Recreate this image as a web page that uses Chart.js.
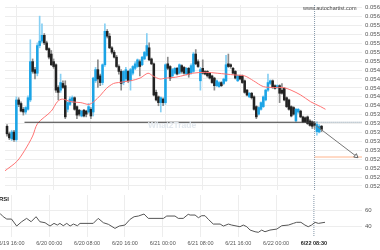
<!DOCTYPE html>
<html lang="en">
<head>
<meta charset="UTF-8">
<title>Candles with RSI</title>
<script src="https://cdn.jsdelivr.net/npm/chart.js"></script>
<style>
  html, body { margin: 0; padding: 0; background: #fff; overflow: hidden; }
  .wrap { position: relative; width: 380px; height: 250px; font-family: "Liberation Sans", Arial, sans-serif; }
  #mainBox { position: absolute; left: 0; top: 0; }
  #rsiBox { position: absolute; left: 0; top: 195px; }
  .site { position: absolute; left: 303px; top: 5px; font-size: 5.5px; color: #444; }
  .brand { position: absolute; left: 148px; top: 120px; font-size: 8.5px; font-weight: bold; color: #e2e8ee; }
  .rsiTag { position: absolute; left: -1px; top: 196px; font-size: 6px; font-weight: bold; color: #222; }
</style>
</head>
<body>
<div class="wrap">
  <canvas id="mainBox" width="380" height="195"></canvas>
  <canvas id="rsiBox" width="380" height="55"></canvas>
  <div class="brand">What2Trade</div>
  <div class="site">www.autochartist.com</div>
  <div class="rsiTag">RSI</div>
</div>
<script>
// half-hour candles, index 0 = 6/19 16:00
const firstIndex = -4;
const opens = [
  0.05354, 0.05337, 0.05326, 0.05341,
  0.05324, 0.05413, 0.05405, 0.05392, 0.05386, 0.05392, 0.05413, 0.05499, 0.05481, 0.05473,
  0.05535, 0.05545, 0.05558, 0.05541, 0.05528, 0.05516, 0.05499, 0.05492, 0.05441, 0.05435,
  0.05450, 0.05445, 0.05392, 0.05403, 0.05411, 0.05418, 0.05398, 0.05390, 0.05377, 0.05390,
  0.05388, 0.05386, 0.05392, 0.05386, 0.05456, 0.05481, 0.05467, 0.05452, 0.05492, 0.05567,
  0.05556, 0.05530, 0.05520, 0.05509, 0.05488, 0.05477, 0.05452, 0.05460, 0.05477, 0.05456,
  0.05473, 0.05484, 0.05488, 0.05499, 0.05492, 0.05505, 0.05513, 0.05530, 0.05505, 0.05494,
  0.05430, 0.05420, 0.05407, 0.05415, 0.05407, 0.05494, 0.05488, 0.05467, 0.05473, 0.05484,
  0.05473, 0.05490, 0.05486, 0.05471, 0.05484, 0.05473, 0.05477, 0.05516, 0.05499, 0.05456,
  0.05484, 0.05477, 0.05477, 0.05473, 0.05467, 0.05462, 0.05445, 0.05443, 0.05452, 0.05450,
  0.05456, 0.05494, 0.05492, 0.05484, 0.05477, 0.05456, 0.05467, 0.05467, 0.05456, 0.05435,
  0.05420, 0.05428, 0.05420, 0.05398, 0.05381, 0.05392, 0.05398, 0.05413, 0.05435, 0.05450,
  0.05456, 0.05445, 0.05441, 0.05445, 0.05435, 0.05439, 0.05418, 0.05413, 0.05398, 0.05396,
  0.05366, 0.05386, 0.05388, 0.05375, 0.05373, 0.05375, 0.05366, 0.05364, 0.05360, 0.05342,
  0.05341, 0.05354
];
const closes = [
  0.05337, 0.05328, 0.05341, 0.05324,
  0.05413, 0.05403, 0.05388, 0.05386, 0.05396, 0.05418, 0.05499, 0.05477, 0.05473, 0.05535,
  0.05545, 0.05558, 0.05541, 0.05526, 0.05509, 0.05492, 0.05488, 0.05435, 0.05430, 0.05452,
  0.05441, 0.05375, 0.05407, 0.05415, 0.05418, 0.05392, 0.05379, 0.05381, 0.05388, 0.05377,
  0.05381, 0.05398, 0.05377, 0.05462, 0.05481, 0.05460, 0.05452, 0.05492, 0.05567, 0.05556,
  0.05530, 0.05520, 0.05509, 0.05488, 0.05477, 0.05450, 0.05477, 0.05481, 0.05456, 0.05481,
  0.05488, 0.05494, 0.05503, 0.05488, 0.05509, 0.05520, 0.05535, 0.05503, 0.05494, 0.05424,
  0.05413, 0.05407, 0.05418, 0.05407, 0.05492, 0.05484, 0.05462, 0.05481, 0.05484, 0.05471,
  0.05492, 0.05477, 0.05473, 0.05484, 0.05471, 0.05490, 0.05516, 0.05494, 0.05488, 0.05481,
  0.05473, 0.05471, 0.05467, 0.05462, 0.05452, 0.05445, 0.05456, 0.05452, 0.05445, 0.05460,
  0.05492, 0.05488, 0.05488, 0.05473, 0.05462, 0.05467, 0.05460, 0.05452, 0.05430, 0.05424,
  0.05428, 0.05418, 0.05392, 0.05375, 0.05396, 0.05407, 0.05420, 0.05435, 0.05452, 0.05456,
  0.05441, 0.05439, 0.05445, 0.05428, 0.05428, 0.05413, 0.05398, 0.05392, 0.05377, 0.05381,
  0.05392, 0.05392, 0.05375, 0.05364, 0.05364, 0.05360, 0.05356, 0.05354, 0.05356, 0.05358,
  0.05354, 0.05347
];
const highs = [
  0.05358, 0.05341, 0.05345, 0.05345,
  0.05420, 0.05418, 0.05409, 0.05396, 0.05398, 0.05422, 0.05548, 0.05505, 0.05486, 0.05541,
  0.05601, 0.05584, 0.05562, 0.05545, 0.05530, 0.05524, 0.05505, 0.05494, 0.05445, 0.05471,
  0.05456, 0.05456, 0.05409, 0.05420, 0.05422, 0.05420, 0.05400, 0.05392, 0.05390, 0.05392,
  0.05390, 0.05405, 0.05396, 0.05464, 0.05486, 0.05503, 0.05471, 0.05494, 0.05584, 0.05571,
  0.05562, 0.05533, 0.05524, 0.05513, 0.05492, 0.05481, 0.05479, 0.05486, 0.05479, 0.05484,
  0.05490, 0.05499, 0.05505, 0.05503, 0.05511, 0.05522, 0.05562, 0.05541, 0.05507, 0.05496,
  0.05435, 0.05422, 0.05420, 0.05418, 0.05494, 0.05509, 0.05490, 0.05484, 0.05486, 0.05486,
  0.05494, 0.05492, 0.05488, 0.05486, 0.05486, 0.05494, 0.05520, 0.05526, 0.05503, 0.05486,
  0.05503, 0.05479, 0.05479, 0.05475, 0.05469, 0.05464, 0.05458, 0.05454, 0.05454, 0.05462,
  0.05513, 0.05516, 0.05494, 0.05486, 0.05479, 0.05469, 0.05469, 0.05469, 0.05458, 0.05437,
  0.05430, 0.05430, 0.05422, 0.05400, 0.05398, 0.05409, 0.05422, 0.05437, 0.05471, 0.05458,
  0.05458, 0.05447, 0.05447, 0.05447, 0.05450, 0.05441, 0.05420, 0.05415, 0.05400, 0.05398,
  0.05394, 0.05394, 0.05390, 0.05377, 0.05375, 0.05377, 0.05369, 0.05366, 0.05364, 0.05364,
  0.05358, 0.05356
];
const lows = [
  0.05332, 0.05324, 0.05322, 0.05320,
  0.05320, 0.05398, 0.05386, 0.05379, 0.05381, 0.05390, 0.05409, 0.05473, 0.05460, 0.05467,
  0.05530, 0.05541, 0.05537, 0.05524, 0.05505, 0.05490, 0.05484, 0.05430, 0.05413, 0.05430,
  0.05439, 0.05371, 0.05386, 0.05400, 0.05407, 0.05390, 0.05371, 0.05377, 0.05375, 0.05375,
  0.05375, 0.05383, 0.05371, 0.05377, 0.05452, 0.05441, 0.05445, 0.05447, 0.05488, 0.05552,
  0.05528, 0.05516, 0.05507, 0.05486, 0.05471, 0.05435, 0.05447, 0.05456, 0.05452, 0.05435,
  0.05469, 0.05481, 0.05486, 0.05467, 0.05490, 0.05503, 0.05511, 0.05501, 0.05492, 0.05422,
  0.05411, 0.05400, 0.05386, 0.05400, 0.05403, 0.05481, 0.05456, 0.05464, 0.05471, 0.05469,
  0.05471, 0.05473, 0.05471, 0.05469, 0.05464, 0.05471, 0.05475, 0.05492, 0.05486, 0.05435,
  0.05471, 0.05469, 0.05464, 0.05460, 0.05450, 0.05435, 0.05443, 0.05441, 0.05443, 0.05447,
  0.05454, 0.05486, 0.05484, 0.05471, 0.05460, 0.05454, 0.05458, 0.05450, 0.05428, 0.05422,
  0.05418, 0.05415, 0.05390, 0.05371, 0.05379, 0.05390, 0.05396, 0.05411, 0.05432, 0.05447,
  0.05439, 0.05437, 0.05439, 0.05407, 0.05426, 0.05411, 0.05396, 0.05390, 0.05375, 0.05379,
  0.05364, 0.05383, 0.05373, 0.05362, 0.05362, 0.05358, 0.05354, 0.05349, 0.05349, 0.05334,
  0.05339, 0.05342
];

// moving average, read at scattered points (candle index, price)
const maIndex = [-4.9, 0.2, 3.6, 7, 9.1, 15, 17.6, 19.7, 23.5, 27.7, 31.1, 33.2, 36.2, 38.7, 41.7, 43.8, 48.9,
  53.1, 56.5, 58.6, 61.6, 64.1, 68.4, 72.6, 75.6, 81.1, 86.2, 93.8, 98, 101.8, 106, 110.7, 114.5, 117.9,
  122.1, 126.3, 130.6, 132.7];
const maValues = [0.05254, 0.05275, 0.05300, 0.05332, 0.05360, 0.05388, 0.05409, 0.05415, 0.05409, 0.05407,
  0.05403, 0.05409, 0.05424, 0.05439, 0.05450, 0.05452, 0.05456, 0.05462, 0.05473, 0.05467, 0.05460,
  0.05462, 0.05464, 0.05469, 0.05473, 0.05475, 0.05473, 0.05469, 0.05467, 0.05456, 0.05443, 0.05441,
  0.05441, 0.05435, 0.05424, 0.05409, 0.05398, 0.05392];

const rsiIndex = [-4.9, -3.5, -2, 0, 2.2, 4.3, 6.4, 8.3, 10.4, 12, 14.2, 16.3, 18, 19.4, 20.5, 21.9, 23.4, 24.8,
  26.2, 27.9, 29, 34.6, 36.7, 38.9, 41, 43.8, 45.6, 48, 50.2, 51.9, 53.7, 56.1, 57.9, 64.3, 65.7, 69.2, 70.6,
  72.7, 74.8, 75.6, 77.7, 79.1, 80.5, 81.9, 83.3, 85.4, 88.3, 89.7, 91.8, 93.2, 94.6, 96.7, 98.1, 99.6, 101,
  103.1, 104.5, 105.9, 107.3, 109.4, 112.3, 114.4, 117.2, 119.3, 120.7, 122.5, 124.2, 125.6, 127, 128.5,
  129.9, 132.7];
const rsiValues = [56, 52, 49.2, 49.2, 40.8, 46, 50, 46, 52, 46, 44.8, 40.8, 44, 42, 44, 41.2, 44, 40.8,
  43.2, 41.2, 44, 44, 50, 44.8, 42.9, 38, 40.8, 42, 48.9, 52, 52.8, 55.2, 50, 50, 52.8, 52.8, 50,
  50, 54.9, 54, 54, 50.8, 53.2, 53.2, 48.9, 43.2, 43.2, 40.8, 43.2, 42, 41.2, 40, 42, 40, 36,
  34, 33.3, 36, 34, 36, 37.2, 41.2, 42, 44, 45.3, 45.3, 42, 40, 42, 45.3,
  44, 45.3];

const timeTicks = [0, 16, 32, 48, 64, 80, 96, 112, 128];
const timeLabels = ['6/19 16:00', '6/20 00:00', '6/20 08:00', '6/20 16:00', '6/21 00:00',
  '6/21 08:00', '6/21 16:00', '6/22 00:00', '6/22 08:30'];
const priceTicks = [0.0562, 0.0560, 0.0558, 0.0556, 0.0554, 0.0552, 0.0550, 0.0548, 0.0546, 0.0544,
  0.0542, 0.0540, 0.0538, 0.0536, 0.0534, 0.0532, 0.0530, 0.0528, 0.0526, 0.0524, 0.0522];
const rsiTicks = [40, 60];

// pattern levels
const nowIndex = 128;
const supportLevel = 0.05363, supportStart = 3.5;
const targetLevel = 0.05285;
const arrowFrom = { x: 128.5, y: 0.05356 }, arrowTo = { x: 145.8, y: 0.05287 };

const xMin = -4.87, xMax = 148.36;
const priceMin = 0.05211, priceMax = 0.05626;
const rsiMin = 27.7, rsiMax = 78;

const gridColor = '#ededed';
const labelFont = { family: "'Liberation Sans', Arial, sans-serif", size: 5.5 };
const axisFont = { family: "'Liberation Sans', Arial, sans-serif", size: 6 };
const rising = i => closes[i] >= opens[i];

Chart.defaults.font.family = "'Liberation Sans', Arial, sans-serif";

function timeAxis(showLabels) {
  return {
    type: 'linear', min: xMin, max: xMax, offset: false,
    afterBuildTicks: s => { s.ticks = timeTicks.map(v => ({ value: v })); },
    afterFit: s => { s.height = showLabels ? 13 : 0; s.paddingLeft = 0; s.paddingRight = 0; },
    grid: { offset: false, drawTicks: false,
      color: c => (c.tick && c.tick.value === nowIndex) ? 'rgba(0,0,0,0)' : gridColor },
    border: { display: false },
    ticks: {
      display: showLabels, autoSkip: false, maxRotation: 0, padding: 3,
      color: c => c.index === timeTicks.length - 1 ? '#222' : '#555',
      font: c => ({ ...labelFont, weight: c.index === timeTicks.length - 1 ? 'bold' : 'normal' }),
      callback: (v, i) => timeLabels[i]
    }
  };
}

function valueAxis(min, max, ticks, fmt) {
  return {
    position: 'right', min: min, max: max, beginAtZero: false,
    afterBuildTicks: s => { s.ticks = ticks.map(v => ({ value: v })); },
    afterFit: s => { s.width = 18; s.paddingTop = 0; s.paddingBottom = 0; },
    grid: { color: gridColor, drawTicks: false },
    border: { display: false },
    ticks: { autoSkip: false, padding: 3, color: '#555', font: axisFont, callback: fmt }
  };
}

const baseOptions = {
  responsive: false, animation: false, events: [],
  layout: { padding: 0 },
  plugins: { legend: { display: false }, tooltip: { enabled: false } }
};

const candleIdx = opens.map((_, i) => firstIndex + i);

new Chart(document.getElementById('mainBox'), {
  type: 'bar',
  data: {
    datasets: [
      { label: 'wicks', data: candleIdx.map((x, i) => ({ x: x, y: [lows[i], highs[i]] })),
        backgroundColor: c => rising(c.dataIndex) ? '#86cff3' : '#8c8c8c',
        barThickness: 1, grouped: false, order: 5 },
      { label: 'bodies', data: candleIdx.map((x, i) => ({ x: x, y: [opens[i], closes[i]] })),
        backgroundColor: c => rising(c.dataIndex) ? '#1ca4e6' : '#222',
        barThickness: 1.9, minBarLength: 1, grouped: false, order: 4 },
      { type: 'line', label: 'MA', data: maIndex.map((x, i) => ({ x: x, y: maValues[i] })),
        borderColor: '#ff7373', borderWidth: 1, pointRadius: 0, tension: 0.3, order: 3 },
      { type: 'line', label: 'support', data: [{ x: supportStart, y: supportLevel }, { x: nowIndex, y: supportLevel }],
        borderColor: '#3a3a3a', borderWidth: 1.2, pointRadius: 0, order: 2 },
      { type: 'line', label: 'support ahead', data: [{ x: nowIndex, y: supportLevel }, { x: xMax, y: supportLevel }],
        borderColor: '#6f8597', borderWidth: 1, borderDash: [1, 1], pointRadius: 0, order: 2 },
      { type: 'line', label: 'target', data: [{ x: nowIndex, y: targetLevel }, { x: xMax, y: targetLevel }],
        borderColor: '#ffb48c', borderWidth: 1, pointRadius: 0, order: 2 },
      { type: 'line', label: 'arrow', data: [arrowFrom, arrowTo],
        borderColor: '#777', borderWidth: 1, order: 1,
        pointRadius: [0, 2.5], pointStyle: 'triangle', pointRotation: 128,
        pointBackgroundColor: '#fff', pointBorderColor: '#666', pointBorderWidth: 1 },
      { type: 'line', label: 'now', data: [{ x: nowIndex, y: priceMax }, { x: nowIndex, y: priceMin }],
        borderColor: '#8396a8', borderWidth: 1, borderDash: [1, 1], pointRadius: 0, order: 6 }
    ]
  },
  options: {
    ...baseOptions,
    scales: {
      x: timeAxis(false),
      y: valueAxis(priceMin, priceMax, priceTicks, v => v.toFixed(5))
    }
  }
});

new Chart(document.getElementById('rsiBox'), {
  type: 'line',
  data: {
    datasets: [
      { label: 'RSI', data: rsiIndex.map((x, i) => ({ x: x, y: rsiValues[i] })),
        borderColor: '#555', borderWidth: 1, pointRadius: 0, tension: 0 },
      { label: 'now', data: [{ x: nowIndex, y: rsiMax }, { x: nowIndex, y: rsiMin }],
        borderColor: '#8396a8', borderWidth: 1, borderDash: [1, 1], pointRadius: 0 }
    ]
  },
  options: {
    ...baseOptions,
    scales: {
      x: timeAxis(true),
      y: valueAxis(rsiMin, rsiMax, rsiTicks, v => String(v))
    }
  }
});
</script>
</body>
</html>
